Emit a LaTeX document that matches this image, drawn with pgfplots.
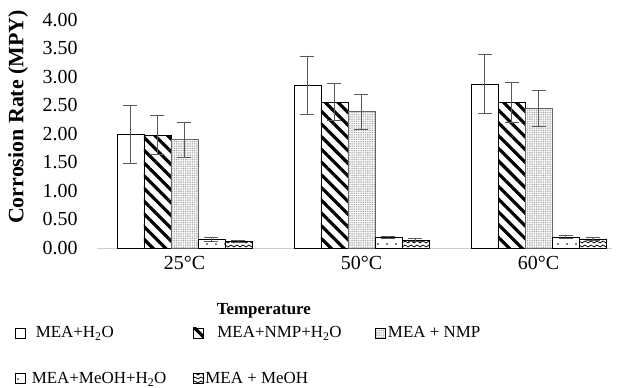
\documentclass[border=0pt]{standalone}
\usepackage{fontspec}
\setmainfont{Liberation Serif}
\usepackage{pgfplots}
\pgfplotsset{compat=1.18}
\usetikzlibrary{patterns,patterns.meta}

\pgfdeclarepatternformonly{zigzag}{\pgfpoint{-0.5bp}{-0.5bp}}{\pgfpoint{6.5bp}{4.5bp}}{\pgfpoint{6bp}{4bp}}{%
  \pgfsetlinewidth{0.7bp}%
  \pgfpathmoveto{\pgfpoint{0bp}{1bp}}%
  \pgfpathlineto{\pgfpoint{3bp}{3bp}}%
  \pgfpathlineto{\pgfpoint{6bp}{1bp}}%
  \pgfusepath{stroke}}

\begin{document}
\begin{tikzpicture}[font=\fontsize{17}{20}\selectfont]
\useasboundingbox (-97bp,-140bp) rectangle (520bp,248bp);
\begin{axis}[
  scale only axis,
  width=515bp, height=228bp,
  xmin=-0.494, xmax=2.415,
  ymin=0, ymax=4,
  ytick={0,0.5,...,4},
  xtick={0,1,2},
  xticklabels={25°C,50°C,60°C},
  /pgf/number format/assume math mode=true,
  yticklabel={\pgfmathprintnumber[fixed,fixed zerofill,precision=2]{\tick}},
  axis x line=bottom,
  axis y line=left,
  x axis line style={draw=gray!40, line width=0.8bp, -},
  y axis line style={draw=none},
  major tick length=0pt,
  yticklabel style={xshift=-16bp, font=\fontsize{20}{22}\selectfont},
  xticklabel style={yshift=-5bp, font=\fontsize{20}{22}\selectfont},
  ybar=0pt,
  bar width=27bp,
  ylabel={\bfseries\fontsize{22}{24}\selectfont Corrosion Rate (MPY)},
  ylabel style={at={(axis description cs:-0.153,0.575)}, anchor=center},
  xlabel={\bfseries Temperature},
  xlabel style={at={(axis description cs:0.324,-0.277)}, anchor=center},
  error bars/y dir=both,
  error bars/y explicit,
  error bars/error bar style={gray!70!black, line width=0.8bp},
  error bars/error mark options={gray!70!black, line width=0.8bp, mark size=7bp, rotate=90},
  legend columns=3,
  legend cell align=left,
  legend image code/.code={\draw[#1, draw=black, line width=0.6bp] (0bp,-5bp) rectangle (10bp,5bp);},
  legend style={draw=none, fill=none, anchor=north west,
    at={(axis description cs:-0.165,-0.326)},
    /tikz/row sep=29bp,
    /tikz/every odd column/.append style={column sep=0bp}},
]
\addplot[draw=black, line width=0.6bp, fill=white] table[x=x,y=y,y error=e] {
x y e
0 2.00 0.51
1 2.86 0.51
2 2.88 0.51
};
\addplot[draw=black, line width=0.6bp, pattern={Lines[angle=-45,distance=9bp,line width=3.2bp]}, pattern color=black] table[x=x,y=y,y error=e] {
x y e
0 1.98 0.34
1 2.56 0.33
2 2.56 0.35
};
\addplot[draw=gray!80!black, line width=0.6bp, pattern={Dots[distance=1.8bp,radius=0.6bp]}, pattern color=gray!80] table[x=x,y=y,y error=e] {
x y e
0 1.90 0.31
1 2.39 0.31
2 2.45 0.31
};
\addplot[draw=black, line width=0.6bp, pattern={Dots[distance=9bp,radius=0.8bp]}, pattern color=black] table[x=x,y=y,y error=e] {
x y e
0 0.15 0.03
1 0.19 0.02
2 0.19 0.03
};
\addplot[draw=black, line width=0.6bp, pattern=zigzag, pattern color=black] table[x=x,y=y,y error=e] {
x y e
0 0.12 0.02
1 0.14 0.02
2 0.16 0.02
};
\legend{\makebox[163bp][l]{\hspace{8bp}MEA+H\textsubscript{2}O},
        \makebox[168bp][l]{\hspace{12bp}MEA+NMP+H\textsubscript{2}O},
        \makebox[100bp][l]{MEA + NMP},
        \makebox[163bp][l]{\hspace{4bp}MEA+MeOH+H\textsubscript{2}O},
        \makebox[168bp][l]{MEA + MeOH}}
\end{axis}
\end{tikzpicture}
\end{document}
